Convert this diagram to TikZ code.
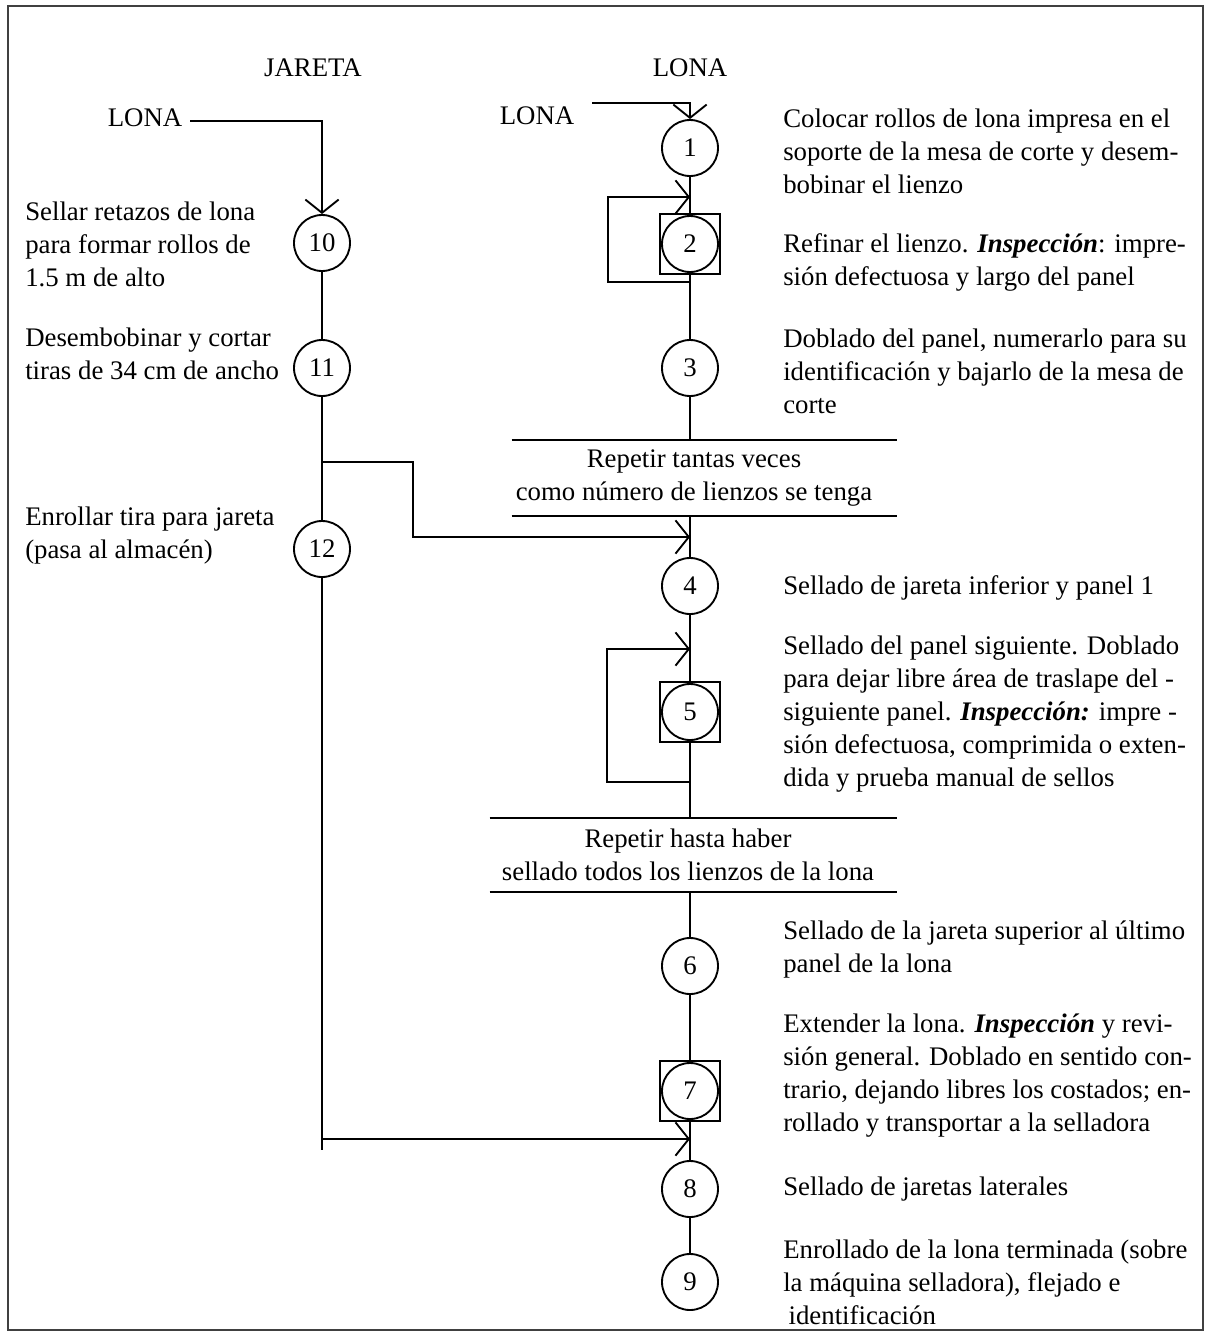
\documentclass[tikz,border=0pt]{standalone}
\usepackage{fontspec}
\setmainfont{Liberation Serif}
\usetikzlibrary{arrows.meta}
\begin{document}
\begin{tikzpicture}[x=0.75pt,y=-0.75pt,
  every node/.style={font=\fontsize{20.1}{24.75}\selectfont},
  ln/.style={line width=1.4pt},
  circ/.style={draw,circle,line width=1.4pt,minimum size=42pt,inner sep=0pt},
  sqbox/.style={draw,rectangle,line width=1.5pt,minimum size=44.5pt,inner sep=0pt},
  desc/.style={anchor=west,align=left,inner sep=0pt},
  barbox/.style={rectangle,inner sep=0pt},
  arr/.style={-{Straight Barb[length=10pt,width=25pt,line width=1.4pt]}}
]
\useasboundingbox (0,0) rectangle (1209,1340);
\draw[line width=1pt,black!75] (8,6) rectangle (1203,1330);

% headers
\node (hJ) at (313,68) {JARETA};
\node (hL) at (690,68) {LONA};
\node (lonaL) at (145,118) {LONA};
\node (lonaR) at (537,116) {LONA};

% right column nodes
\node[circ] (c1) at (690,148) {1};
\node[sqbox] (sq2) at (690,244) {};
\node[circ] (c2) at (sq2.center) {2};
\node[circ] (c3) at (690,368) {3};
\node[barbox,minimum width=288.75pt,minimum height=57pt] (rep1) at (704.5,478) {};
\node[align=center,inner sep=0pt] (rep1t) at (694,478) {Repetir tantas veces\\como número de lienzos se tenga};
\node[circ] (c4) at (690,586) {4};
\node[sqbox] (sq5) at (690,712) {};
\node[circ] (c5) at (sq5.center) {5};
\node[barbox,minimum width=305.25pt,minimum height=55.5pt] (rep2) at (693.5,855) {};
\node[align=center,inner sep=0pt] (rep2t) at (688,855) {Repetir hasta haber\\sellado todos los lienzos de la lona};
\node[circ] (c6) at (690,966) {6};
\node[sqbox] (sq7) at (690,1091) {};
\node[circ] (c7) at (sq7.center) {7};
\node[circ] (c8) at (690,1189) {8};
\node[circ] (c9) at (690,1282) {9};

% left column nodes
\node[circ] (c10) at (322,243) {10};
\node[circ] (c11) at (322,368) {11};
\node[circ] (c12) at (322,549) {12};

% coordinates for free ends
\coordinate (rs) at (592,103);
\coordinate (ls) at (190,121);
\coordinate (j2b) at (690,282);
\coordinate (j2t) at (690,197);
\coordinate (br1) at (322,462);
\coordinate (j4) at (690,537);
\coordinate (j5b) at (690,782);
\coordinate (j5t) at (690,649);
\coordinate (br2) at (322,1139);
\coordinate (j8) at (690,1139);
\coordinate (lend) at (322,1150);

% bars
\draw[ln] (rep1.north west) -- (rep1.north east);
\draw[ln] (rep1.south west) -- (rep1.south east);
\draw[ln] (rep2.north west) -- (rep2.north east);
\draw[ln] (rep2.south west) -- (rep2.south east);

% right connectors
\draw[ln,arr] (rs) -| (c1.north);
\draw[ln] (c1.south) -- (sq2.north);
\draw[ln,arr] (j2b) -- (608,282) -- (608,197) -- (j2t);
\draw[ln] (sq2.south) -- (c3.north);
\draw[ln] (c3.south) -- (c3.south |- rep1.north);
\draw[ln] (c4.north |- rep1.south) -- (c4.north);
\draw[ln,arr] (br1) -- (413,462) -- (413,537) -- (j4);
\draw[ln] (c4.south) -- (sq5.north);
\draw[ln,arr] (j5b) -- (607,782) -- (607,649) -- (j5t);
\draw[ln] (sq5.south) -- (sq5.south |- rep2.north);
\draw[ln] (c6.north |- rep2.south) -- (c6.north);
\draw[ln] (c6.south) -- (sq7.north);
\draw[ln] (sq7.south) -- (c8.north);
\draw[ln,arr] (br2) -- (j8);
\draw[ln] (c8.south) -- (c9.north);

% left connectors
\draw[ln,arr] (ls) -| (c10.north);
\draw[ln] (c10.south) -- (c11.north);
\draw[ln] (c11.south) -- (c12.north);
\draw[ln] (c12.south) -- (lend);

% right descriptions
\node[desc] (d1) at (783,151) {Colocar rollos de lona impresa en el\\soporte de la mesa de corte y desem-\\bobinar el lienzo};
\node[desc] (d2) at (783,262) {Refinar el lienzo. \textbf{\textit{Inspección}}: impre-\\sión defectuosa y largo del panel};
\node[desc] (d3) at (783,371) {Doblado del panel, numerarlo para su\\identificación y bajarlo de la mesa de\\corte};
\node[desc] (d4) at (783,588) {Sellado de jareta inferior y panel 1};
\node[desc] (d5) at (783,714) {Sellado del panel siguiente. Doblado\\para dejar libre área de traslape del -\\siguiente panel. \textbf{\textit{Inspección:}} impre -\\sión defectuosa, comprimida o exten-\\dida y prueba manual de sellos};
\node[desc] (d6) at (783,950) {Sellado de la jareta superior al último\\panel de la lona};
\node[desc] (d7) at (783,1076) {Extender la lona. \textbf{\textit{Inspección}} y revi-\\sión general. Doblado en sentido con-\\trario, dejando libres los costados; en-\\rollado y transportar a la selladora};
\node[desc] (d8) at (783,1189) {Sellado de jaretas laterales};
\node[desc] (d9) at (783,1282) {Enrollado de la lona terminada (sobre\\la máquina selladora), flejado e\\\hspace*{4pt}identificación};

% left descriptions
\node[desc] (d10) at (25,244) {Sellar retazos de lona\\para formar rollos de\\1.5 m de alto};
\node[desc] (d11) at (25,354) {Desembobinar y cortar\\tiras de 34 cm de ancho};
\node[desc] (d12) at (25,536) {Enrollar tira para jareta\\(pasa al almacén)};
\end{tikzpicture}
\end{document}
